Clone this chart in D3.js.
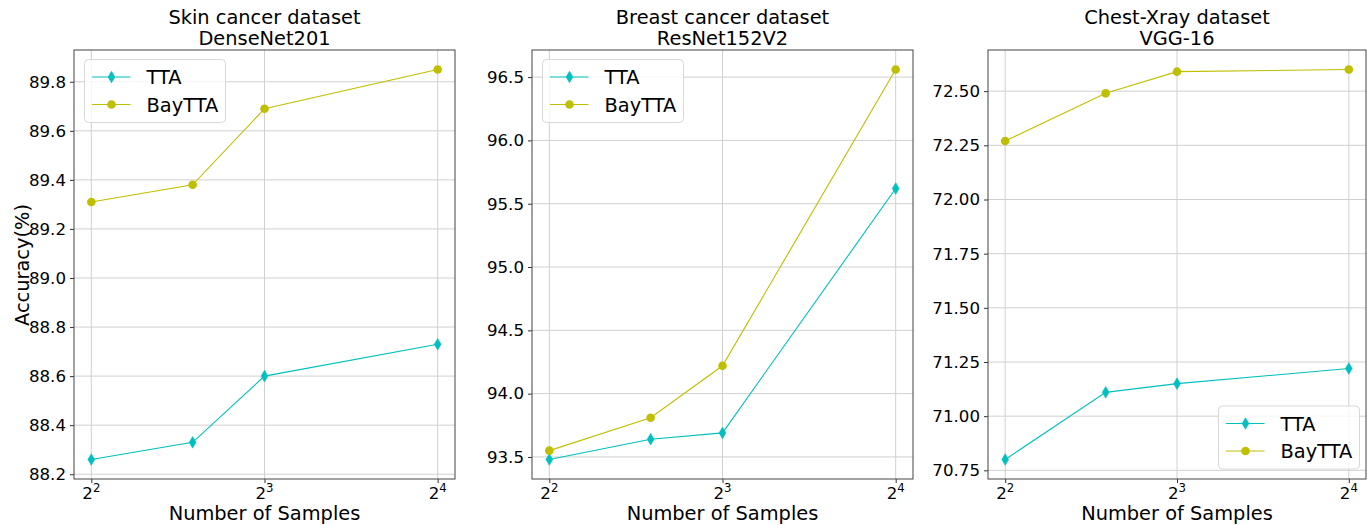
<!DOCTYPE html>
<html><head><meta charset="utf-8">
<script src="https://cdn.jsdelivr.net/npm/d3@7"></script>
<style>
body{margin:0;background:#fff;}
text{font-family:"DejaVu Sans",sans-serif;fill:#000;}
</style></head>
<body>
<svg id="chart" width="1367" height="525"></svg>
<script>
const samples = [4, 6, 8, 16];
const xTicks = [4, 8, 16];
const xTickExps = ["2", "3", "4"];

const titles = [["Skin cancer dataset", "DenseNet201"], ["Breast cancer dataset", "ResNet152V2"], ["Chest-Xray dataset", "VGG-16"]];
const ttaSkin = [88.26, 88.33, 88.60, 88.73];
const bayttaSkin = [89.31, 89.38, 89.69, 89.85];
const ttaBreast = [93.48, 93.64, 93.69, 95.62];
const bayttaBreast = [93.55, 93.81, 94.22, 96.56];
const ttaChest = [70.80, 71.11, 71.15, 71.22];
const bayttaChest = [72.27, 72.49, 72.59, 72.60];
const yTicksSkin = [88.2, 88.4, 88.6, 88.8, 89.0, 89.2, 89.4, 89.6, 89.8];
const yTicksBreast = [93.5, 94.0, 94.5, 95.0, 95.5, 96.0, 96.5];
const yTicksChest = [70.75, 71.00, 71.25, 71.50, 71.75, 72.00, 72.25, 72.50];
const seriesNames = ["TTA", "BayTTA"];
const colors = {TTA: "#00bfbf", BayTTA: "#bfbf00"};

const panels = [
  {tta: ttaSkin, bay: bayttaSkin, ticks: yTicksSkin, fmt: ".1f", left: 74, right: 455, legend: "ul"},
  {tta: ttaBreast, bay: bayttaBreast, ticks: yTicksBreast, fmt: ".1f", left: 532, right: 913, legend: "ul"},
  {tta: ttaChest, bay: bayttaChest, ticks: yTicksChest, fmt: ".2f", left: 988, right: 1366, legend: "lr"}
];
const plotTop = 50, plotBottom = 479;
const svg = d3.select("#chart");

function margins(vals){
  const lo = d3.min(vals), hi = d3.max(vals), m = (hi - lo) * 0.05;
  return [lo - m, hi + m];
}

function drawMarker(g, name, cx, cy) {
  if (name === "TTA") {
    g.append("path").attr("d", `M${cx},${cy - 5.8}L${cx + 3.4},${cy}L${cx},${cy + 5.8}L${cx - 3.4},${cy}Z`)
      .attr("fill", colors[name]).attr("stroke", colors[name]).attr("stroke-width", 0.6);
  } else {
    g.append("circle").attr("cx", cx).attr("cy", cy).attr("r", 4.3).attr("fill", colors[name]);
  }
}

panels.forEach((p, i) => {
  const x = d3.scaleLog().base(2).domain([Math.pow(2, 1.9), Math.pow(2, 4.1)]).range([p.left, p.right]);
  const y = d3.scaleLinear().domain(margins(p.tta.concat(p.bay))).range([plotBottom, plotTop]);
  const g = svg.append("g");

  // grid
  g.selectAll(".gx").data(xTicks).enter().append("line")
    .attr("x1", d => x(d)).attr("x2", d => x(d)).attr("y1", plotTop).attr("y2", plotBottom)
    .attr("stroke", "#d0d0d0").attr("stroke-width", 1);
  g.selectAll(".gy").data(p.ticks).enter().append("line")
    .attr("x1", p.left).attr("x2", p.right).attr("y1", d => y(d)).attr("y2", d => y(d))
    .attr("stroke", "#d0d0d0").attr("stroke-width", 1);

  // y axis
  const ya = g.append("g").attr("transform", `translate(${p.left},0)`)
    .call(d3.axisLeft(y).tickValues(p.ticks).tickFormat(d3.format(p.fmt)).tickSize(4).tickPadding(4));
  ya.select(".domain").remove();
  ya.selectAll("line").attr("stroke", "#333");
  ya.selectAll("text").style("font-size", "16.67px").attr("font-family", "DejaVu Sans");

  // x axis
  const xa = g.append("g").attr("transform", `translate(0,${plotBottom})`)
    .call(d3.axisBottom(x).tickValues(xTicks).tickFormat("").tickSize(4));
  xa.select(".domain").remove();
  xa.selectAll("line").attr("stroke", "#333");
  xTicks.forEach((t, k) => {
    const tx = g.append("text").attr("x", x(t)).attr("y", 499).attr("text-anchor", "middle")
      .style("font-size", "16.67px");
    tx.append("tspan").text("2");
    tx.append("tspan").attr("dy", -7).style("font-size", "11.7px").text(xTickExps[k]);
  });

  // frame
  g.append("rect").attr("x", p.left).attr("y", plotTop).attr("width", p.right - p.left).attr("height", plotBottom - plotTop)
    .attr("fill", "none").attr("stroke", "#444").attr("stroke-width", 1);

  // lines
  const line = d3.line().x((d, k) => x(samples[k])).y(d => y(d));
  [["TTA", p.tta], ["BayTTA", p.bay]].forEach(([name, vals]) => {
    g.append("path").datum(vals).attr("d", line).attr("fill", "none")
      .attr("stroke", colors[name]).attr("stroke-width", 1.1);
    vals.forEach((v, k) => drawMarker(g, name, x(samples[k]), y(v)));
  });

  // titles
  const cx = (p.left + p.right) / 2;
  g.append("text").attr("x", cx).attr("y", 24).attr("text-anchor", "middle").style("font-size", "19.4px").text(titles[i][0]);
  g.append("text").attr("x", cx).attr("y", 45).attr("text-anchor", "middle").style("font-size", "19.4px").text(titles[i][1]);
  g.append("text").attr("x", cx).attr("y", 520).attr("text-anchor", "middle").style("font-size", "19.4px").text("Number of Samples");
  if (i === 0) {
    g.append("text").attr("transform", "translate(29,265) rotate(-90)").attr("text-anchor", "middle")
      .style("font-size", "19.4px").text("Accuracy(%)");
  }

  // legend
  const lw = 141, lh = 63;
  const lx = p.legend === "ul" ? p.left + 10.5 : p.right - 6.5 - lw;
  const ly = p.legend === "ul" ? 59.5 : 406;
  const lg = g.append("g").attr("transform", `translate(${lx},${ly})`);
  lg.append("rect").attr("width", lw).attr("height", lh).attr("rx", 4).attr("fill", "#fff").attr("fill-opacity", 0.8)
    .attr("stroke", "#d8d8d8");
  seriesNames.forEach((name, k) => {
    const yy = 17.5 + k * 27.5;
    lg.append("line").attr("x1", 7.5).attr("x2", 46).attr("y1", yy).attr("y2", yy).attr("stroke", colors[name]).attr("stroke-width", 1.1);
    drawMarker(lg, name, 27, yy);
    lg.append("text").attr("x", 62).attr("y", yy + 7).style("font-size", "19.4px").text(name);
  });
});
</script>
</body></html>
